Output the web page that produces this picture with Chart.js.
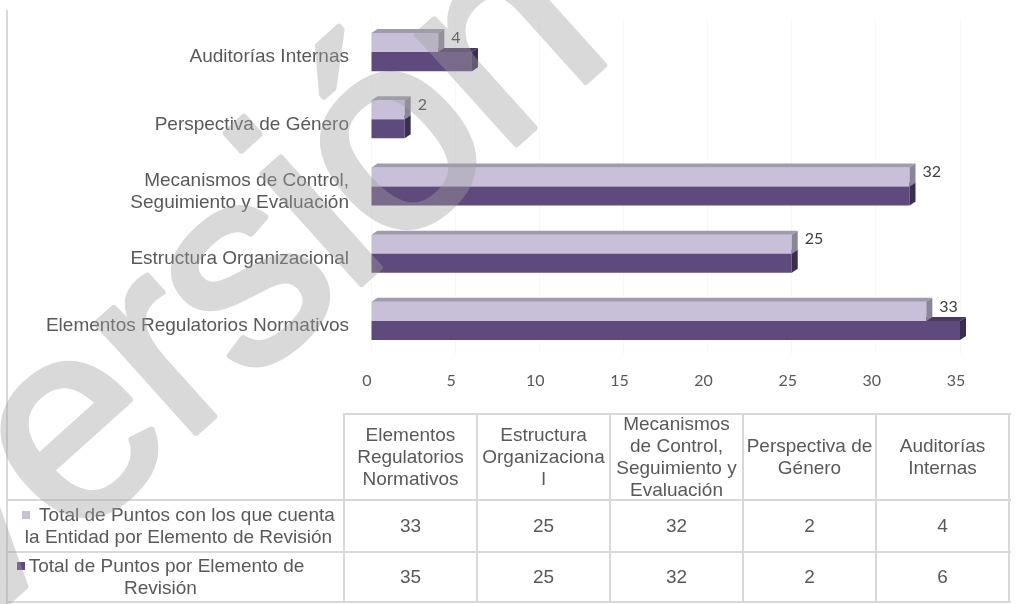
<!DOCTYPE html>
<html>
<head>
<meta charset="utf-8">
<script src="https://cdn.jsdelivr.net/npm/chart.js@4.4.1/dist/chart.umd.min.js"></script>
<style>
  html, body { margin: 0; padding: 0; background: #ffffff; }
  #wrap { position: relative; width: 1016px; height: 604px; overflow: hidden; font-family: "Liberation Sans", Arial, sans-serif; }
  #chartCanvas { position: absolute; left: 0; top: 0; }
  .ln { position: absolute; background: #d9d9d9; }
  .cell { position: absolute; display: flex; align-items: center; justify-content: center; text-align: center;
          font-size: 19px; line-height: 22px; color: #595959; white-space: nowrap; box-sizing: border-box; }
  .mk { display: inline-block; width: 8px; height: 8px; margin-right: 4px; vertical-align: 2px; }
  #wm { position: absolute; left: 0; top: 0; pointer-events: none; }
</style>
</head>
<body>
<div id="wrap">
  <canvas id="chartCanvas" width="1016" height="400"></canvas>
  <div id="table"></div>
  <svg id="wm" width="1016" height="604">
    <g opacity="0.4">
      <text x="-54" y="658" transform="rotate(-42 -54 658)" font-family="Liberation Sans, Arial, sans-serif"
            font-size="280" letter-spacing="-5" fill="rgb(160,160,160)" stroke="rgb(160,160,160)"
            stroke-width="6" stroke-linejoin="round">Versión</text>
    </g>
  </svg>
</div>
<script>
// ---------------- data ----------------
const categories = [
  'Elementos Regulatorios Normativos',
  'Estructura Organizacional',
  ['Mecanismos de Control,', 'Seguimiento y Evaluación'],
  'Perspectiva de Género',
  'Auditorías Internas'
];
const tableHeaders = [
  ['Elementos', 'Regulatorios', 'Normativos'],
  ['Estructura', 'Organizaciona', 'l'],
  ['Mecanismos', 'de Control,', 'Seguimiento y', 'Evaluación'],
  ['Perspectiva de', 'Género'],
  ['Auditorías', 'Internas']
];
const seriesNames = [
  'Total de Puntos con los que cuenta la Entidad por Elemento de Revisión',
  'Total de Puntos por Elemento de Revisión'
];
const seriesLegendLines = [
  ['Total de Puntos con los que cuenta', 'la Entidad por Elemento de Revisión'],
  ['Total de Puntos por Elemento de', 'Revisión']
];
const puntosEntidad = [33, 25, 32, 2, 4];
const puntosTotales = [35, 25, 32, 2, 6];
const xTicks = [0, 5, 10, 15, 20, 25, 30, 35];

// ---------------- styles ----------------
const frontColors = ['#c8c0d9', '#5f4a7d'];
const faceColors = [
  { top: '#a19bae', side: '#8b8598' },
  { top: '#4a3a62', side: '#3b2d50' }
];
const DX = 6, DY = 4;

const bar3d = {
  id: 'bar3d',
  afterDatasetDraw(chart, args) {
    const i = args.index;
    const ctx = chart.ctx;
    args.meta.data.forEach(bar => {
      const p = bar.getProps(['x', 'y', 'base', 'height'], true);
      const top = p.y - p.height / 2, bot = p.y + p.height / 2;
      ctx.save();
      ctx.fillStyle = faceColors[i].top;
      ctx.beginPath();
      ctx.moveTo(p.base, top); ctx.lineTo(p.base + DX, top - DY);
      ctx.lineTo(p.x + DX, top - DY); ctx.lineTo(p.x, top); ctx.closePath(); ctx.fill();
      ctx.fillStyle = faceColors[i].side;
      ctx.beginPath();
      ctx.moveTo(p.x, top); ctx.lineTo(p.x + DX, top - DY);
      ctx.lineTo(p.x + DX, bot - DY); ctx.lineTo(p.x, bot); ctx.closePath(); ctx.fill();
      ctx.restore();
    });
  }
};

const dataLabels = {
  id: 'dataLabels',
  afterDatasetsDraw(chart) {
    const ctx = chart.ctx;
    const meta = chart.getDatasetMeta(0);
    const vals = chart.data.datasets[0].data;
    ctx.save();
    ctx.font = '16px Lato, "Open Sans", sans-serif';
    ctx.fillStyle = '#404040';
    ctx.textAlign = 'left';
    ctx.textBaseline = 'middle';
    meta.data.forEach((bar, k) => {
      const p = bar.getProps(['x', 'y'], true);
      ctx.fillText(String(vals[k]), p.x + 13, p.y - 5);
    });
    ctx.restore();
  }
};

new Chart(document.getElementById('chartCanvas'), {
  type: 'bar',
  data: {
    labels: categories,
    datasets: [
      { label: seriesNames[0], data: puntosEntidad, backgroundColor: frontColors[0], borderWidth: 0,
        categoryPercentage: 0.567, barPercentage: 1 },
      { label: seriesNames[1], data: puntosTotales, backgroundColor: frontColors[1], borderWidth: 0,
        categoryPercentage: 0.567, barPercentage: 1 }
    ]
  },
  options: {
    indexAxis: 'y',
    responsive: false,
    animation: false,
    layout: { padding: { top: 18.5, right: 56, left: 0, bottom: 0 } },
    plugins: { legend: { display: false }, tooltip: { enabled: false } },
    scales: {
      x: {
        min: 0, max: 35,
        afterBuildTicks: s => { s.ticks = xTicks.map(v => ({ value: v })); },
        grid: { color: '#f8f8f8', drawTicks: false },
        border: { display: false },
        ticks: { font: { family: 'Lato', size: 16 }, color: '#595959', padding: 17, labelOffset: -4 },
        afterFit: s => { s.height = 45.5; s.paddingLeft = 0; s.paddingRight = 0; }
      },
      y: {
        reverse: true,
        grid: { display: false, drawTicks: false },
        border: { display: false },
        ticks: { font: { family: '"Liberation Sans", Arial', size: 19, lineHeight: 1.16 }, color: '#595959',
                 padding: 22, labelOffset: 5 },
        afterFit: s => { s.width = 371; s.paddingTop = 0; s.paddingBottom = 0; }
      }
    }
  },
  plugins: [bar3d, dataLabels]
});

// ---------------- data table ----------------
const tbl = document.getElementById('table');
function line(x, y, w, h) {
  const d = document.createElement('div');
  d.className = 'ln';
  d.style.left = x + 'px'; d.style.top = y + 'px'; d.style.width = w + 'px'; d.style.height = h + 'px';
  tbl.appendChild(d);
}
function cell(x, y, w, h, html, extra) {
  const d = document.createElement('div');
  d.className = 'cell';
  d.style.left = x + 'px'; d.style.top = y + 'px'; d.style.width = w + 'px'; d.style.height = h + 'px';
  if (extra) Object.assign(d.style, extra);
  const inner = document.createElement('div');
  inner.innerHTML = html;
  d.appendChild(inner);
  tbl.appendChild(d);
}
const colX = [344, 477, 610, 743, 876, 1009];
const rowY = [414, 500, 552, 602];
// outer left border
line(6, 10, 2, 594);
// horizontals
line(344, 413, 1009 - 344 + 2, 2);
line(6, 499, 1009 - 6 + 2, 2);
line(6, 551, 1009 - 6 + 2, 2);
line(6, 601, 1009 - 6 + 2, 2);
// verticals
colX.forEach(x => line(x - 1, 413, 2, 602 - 413 + 1));

tableHeaders.forEach((lines, c) => {
  cell(colX[c], rowY[0], colX[c + 1] - colX[c], rowY[1] - rowY[0], lines.join('<br>'));
});
const rows = [puntosEntidad, puntosTotales];
rows.forEach((vals, r) => {
  vals.forEach((v, c) => {
    cell(colX[c], rowY[r + 1], colX[c + 1] - colX[c], rowY[r + 2] - rowY[r + 1], String(v));
  });
  const mk = '<span class="mk" style="background:' + frontColors[r] + '"></span>';
  const html = seriesLegendLines[r].map((t, k) => (k === 0 ? mk + (r === 0 ? ' ' : '') + t : t)).join('<br>');
  cell(7, rowY[r + 1], 337, rowY[r + 2] - rowY[r + 1], html,
       r === 0 ? { paddingLeft: '6px' } : { paddingRight: '30px' });
});
</script>
</body>
</html>
